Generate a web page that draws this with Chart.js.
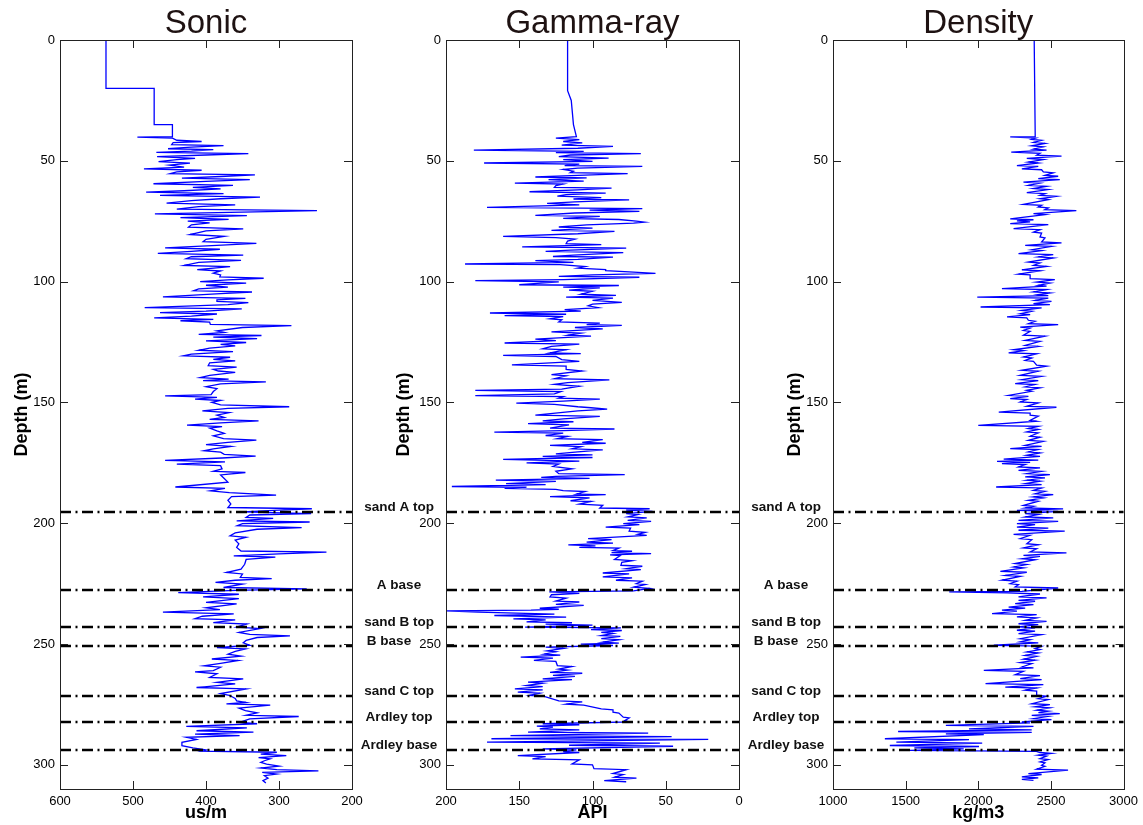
<!DOCTYPE html>
<html>
<head>
<meta charset="utf-8">
<title>Well logs</title>
<script src="https://cdn.jsdelivr.net/npm/chart.js@4.4.1/dist/chart.umd.min.js"></script>
<style>
  html, body { margin: 0; padding: 0; background: #fff; }
  #wrap { position: relative; width: 1143px; height: 825px; overflow: hidden; }
  canvas { position: absolute; top: 0; }
</style>
</head>
<body>
<div id="wrap">
  <canvas id="sonicChart" width="365" height="825" style="left:0"></canvas>
  <canvas id="gammaChart" width="397" height="825" style="left:355px"></canvas>
  <canvas id="densityChart" width="398" height="825" style="left:745px"></canvas>
</div>
<script>
// log samples as [depth (m), reading]
const sonicLog = [
  [0,537],[20,537],[20,471],[35,471],[35,446],[40,446],[40.2,494],[40.6,446],[41.5,440],[42,406],
  [42.5,445],[43.3,447],[43.7,376],[44.3,420],[45,452],[45.4,390],[46,420],[46.5,468],[47,342],[47.6,400],
  [48.3,467],[49,415],[49.5,440],[50.3,465],[51,422],[51.8,450],[52.6,430],[53.3,485],[53.9,406],[54.6,440],
  [55.3,449],[55.8,333],[56.5,380],[57.2,433],[57.8,340],[58.5,400],[59.5,472],[60.2,363],[61,418],[61.6,380],
  [62.4,430],[63,482],[63.6,376],[64.3,463],[65,326],[65.7,380],[66.5,420],[67.5,454],[68.2,360],[69,410],
  [70,440],[70.6,248],[71.2,350],[72,470],[72.7,344],[73.5,435],[74.2,369],[75,425],[75.7,395],[76.5,420],
  [77.5,424],[78.2,349],[79,400],[80.5,422],[81.3,375],[82.5,400],[83.5,404],[84.2,331],[85,385],[86,456],
  [86.6,381],[87.5,420],[88.3,466],[89,349],[89.7,420],[90.5,427],[91.2,352],[92,410],[93.3,430],[93.8,367],
  [95,412],[95.6,380],[96.5,390],[97.2,380],[98,381],[98.6,321],[99.3,370],[100,408],[100.6,345],[101.5,400],
  [102.3,370],[103,410],[103.8,417],[104.3,337],[105,380],[106.3,459],[106.9,346],[107.6,385],[108.2,385],[108.7,342],
  [109.5,370],[110.8,484],[111.3,351],[112.2,400],[112.8,463],[113.4,385],[114.3,420],[115,471],[115.6,390],[116.2,435],
  [116.8,395],[117.7,394],[118.2,283],[119,350],[120.4,385],[121,375],[121.8,410],[122.3,324],[123,390],[123.6,330],
  [124.5,400],[125.2,345],[126,380],[126.6,360],[127.5,395],[128.4,410],[129,363],[130,420],[130.7,431],[131.3,367],
  [132.2,390],[132.8,360],[133.6,395],[134.8,397],[135.4,358],[136.3,390],[137,383],[137.6,360],[138.8,395],[139.7,408],
  [140.4,369],[141,404],[141.5,318],[142.3,380],[143.5,400],[144.3,385],[145.5,390],[146.8,393],[147.3,456],[147.9,385],
  [148.6,415],[149.2,380],[150,392],[151,380],[151.8,286],[152.5,370],[153.5,405],[154.2,368],[155.3,385],[156.2,375],
  [157,395],[157.6,328],[158.5,380],[159.4,426],[160,378],[160.6,395],[161.8,385],[162.8,375],[163.8,390],[165,376],
  [165.6,331],[166.5,370],[167.5,400],[168.2,366],[169.2,390],[170,403],[170.6,380],[171.5,375],[172.2,332],[173,378],
  [174,456],[174.6,374],[175.5,440],[176.2,380],[177.5,378],[178.5,390],[179,346],[180,380],[181.5,375],[183,370],
  [185,442],[185.6,374],[186.6,394],[187.3,368],[188.4,304],[189,365],[190.5,370],[192,366],[193.5,370],[194,255],
  [194.6,300],[195.3,350],[196,256],[196.6,340],[197.6,345],[198,308],[199,358],[199.5,258],[200.2,350],[201,357],
  [201.8,269],[202.5,330],[204,360],[205.2,367],[205.8,345],[207,360],[208.5,355],[210,358],[211.5,352],[212,235],
  [212.7,300],[213.5,362],[214,305],[215,345],[217,347],[219,352],[220.4,372],[221,350],[222.4,353],[222.9,310],
  [223.6,360],[224.5,387],[225.2,350],[226.6,376],[227.2,262],[227.8,360],[228.7,438],[229.4,355],[230.5,404],[231.2,355],
  [232.8,400],[233.4,358],[235,400],[235.8,381],[236.8,459],[237.5,362],[238.5,405],[239.5,415],[240,360],[241.1,390],
  [241.7,344],[243,358],[243.6,326],[245.2,355],[246,340],[246.6,285],[247.3,330],[248.5,345],[249.5,349],[250.5,340],
  [251.5,385],[252,346],[253,360],[254.2,370],[255,352],[256.2,392],[256.8,356],[258,380],[259,403],[259.6,380],
  [261,390],[261.5,415],[262.3,385],[263.8,395],[264.4,349],[265.9,385],[266.5,360],[268,413],[268.6,345],[270.5,380],
  [271.2,368],[272.5,360],[273.5,358],[274.2,345],[274.8,372],[275.3,312],[276.5,355],[277.6,346],[278.5,330],[279.5,345],
  [280,273],[281,340],[282.4,354],[283,330],[284.1,427],[284.7,344],[285.9,413],[286.5,335],[287.3,415],[287.9,354],
  [288.6,427],[289.5,413],[290.7,433],[292.1,433],[293,418],[293.8,400],[294.3,406],[294.8,303],[295.6,325],[296.2,290],
  [297,328],[297.5,312],[298.3,320],[299,325],[299.7,317],[300.5,300],[301.3,325],[302,303],[302.5,246],[303.1,323],
  [303.8,303],[304.5,320],[305.5,315],[306.5,322],[307.5,318]
];

const gammaLog = [
  [0,117],[21,117],[25,114.5],[35,113],[40,111],[40.6,125],[41.2,109],[42,120],[42.6,107],[43.5,121],
  [44,86],[44.8,110],[45.6,181],[46.1,106],[46.6,125],[47,67],[47.6,115],[48.3,123],[48.9,89],[49.5,120],
  [50.2,100],[50.9,174],[51.4,109],[52,119],[52.3,66],[53,110],[53.6,120],[54.3,113],[54.9,115],[55.3,76],
  [56,110],[56.7,139],[57.1,104],[57.8,130],[58.4,106],[59.2,153],[59.6,120],[60.3,125],[61,126],[61.3,87],
  [62,110],[62.8,143],[63.4,91],[64,118],[64.6,124],[65.2,94],[65.8,113],[66.2,75],[67,112],[67.6,131],
  [68.2,109],[69.3,172],[69.8,66],[70.4,102],[70.9,68],[71.6,112],[72.6,139],[73,95],[73.8,120],[74.3,82],
  [75,70],[75.4,64.6],[75.8,72],[76.5,104],[77.4,123],[77.9,100],[78.8,128],[79.2,85],[80.2,110],[81.3,161],
  [81.8,125],[82.4,112],[83.2,117],[84.3,118],[84.7,94],[85.6,148],[86.1,77],[87,115],[87.5,132],[88,79],
  [89,113],[89.6,127],[89.9,86],[90.8,110],[91.3,139],[92,113],[92.7,187],[93,122],[93.8,105],[94.4,110],
  [95,91],[95.5,91],[96,75],[96.6,57],[97.2,100],[97.8,123],[98.2,68],[99.2,120],[99.6,180],[100.1,123],
  [100.8,140],[101.3,150],[101.6,82],[102.3,120],[102.6,95],[103.5,116],[104,100],[105.2,108],[105.7,84],[106.4,118],
  [106.8,86],[107.8,100],[108.6,80],[109.3,100],[110,103],[110.8,96],[111.6,119],[112.2,108],[113,170],[113.5,118],
  [114.1,160],[114.5,120],[115.4,129],[115.8,121],[116.7,123],[117.2,95],[117.8,104],[118.1,80],[119,112],[119.6,93],
  [120.8,128],[121.3,108],[122.2,117],[122.6,101],[123.8,139],[124.4,125],[125.4,160],[125.9,109],[126.8,128],[127.8,134],
  [128.2,118],[129.5,129],[129.8,108],[130.5,161],[131,125],[132.3,121],[133,109],[134.5,155],[135,118],[136.3,118],
  [137,107],[138.5,128],[139,118],[140.2,126],[140.7,88.5],[141.8,117],[142.5,126],[143.3,109],[144.5,121],[145,180],
  [145.5,121.5],[146.5,126],[147.2,180],[147.6,120],[148.2,123],[148.6,95],[149.5,120],[150.3,152],[150.8,126],[151.8,110],
  [152.2,101],[152.8,90],[153.5,110],[155.3,139],[155.8,95],[156.8,120],[157.6,134],[158,113],[158.8,144],[159.3,116],
  [160.6,129],[161,85],[161.7,120],[162.3,167],[162.7,120],[163.7,132],[164.1,117],[165,124],[165.4,93],[166.5,107],
  [166.9,91],[167.8,129],[168.3,108],[169.2,114],[169.6,93],[170.5,110],[171.3,125],[171.7,100],[172.3,134],[172.8,100],
  [173.6,161],[174.3,109],[175,145],[175.5,123],[176.5,127],[177.5,114],[178.5,125],[179.5,123],[179.9,78],[180.6,125],
  [181,135],[181.4,102],[182.2,166],[182.7,125],[183.6,159],[184,132],[184.8,196],[185.1,145],[185.6,160],[186,125],
  [186.5,120],[186.9,105],[188,111],[188.2,91],[189,129],[189.5,102],[190.7,115],[191,101],[192.1,109],[192.6,93],
  [193.7,95],[194,61],[194.6,77],[195.1,59],[196,77],[196.4,69],[197.4,76],[197.8,63],[198.8,76],[199.2,60],
  [200.2,79],[200.6,68],[201.6,91],[202,74],[203.3,75],[203.8,64],[204.6,69],[205,63],[206.4,103],[206.8,87],
  [207.8,104],[208.2,86],[209,116.5],[209.4,98],[210,109],[210.3,82],[211.3,86],[211.6,73],[212.2,87],[212.6,60],
  [213.1,88],[213.4,81],[215,85],[215.5,73],[216.2,80],[217.4,80.6],[217.8,66],[218.8,77],[219.2,67],[220.6,93],
  [221,75],[222.2,93],[222.6,73],[223.6,84],[224,66],[225,70],[225.4,64],[226.5,72],[227,61],[228,72],
  [228.4,129.5],[229,109],[229.6,128],[230.5,129],[231,118],[232.2,125],[232.6,109],[233.6,125],[234,106],[235.2,136],
  [235.6,123],[236,142],[236.3,200],[236.8,178],[237.6,126],[238.2,167],[238.9,118],[239.6,154],[240,132],[240.8,145],
  [241.2,114],[241.8,132],[242.2,100],[243,146],[243.3,80.6],[244,101],[244.4,80],[245.2,94],[245.6,86],[246.5,94],
  [246.8,81],[247.8,94],[248.2,82],[249.2,93],[249.6,82],[250,108],[250.6,86],[251.3,132],[251.8,120],[252.8,131],
  [253.2,125],[254.2,133],[254.6,122],[255.4,149],[255.8,127],[256.8,140],[257.2,125],[258.9,124],[259.3,114],[260.4,123],
  [260.8,117],[261.7,129],[262.1,107],[263,127],[263.4,112],[264.4,134],[264.7,114],[265.8,144],[266.2,134],[267.2,145],
  [267.6,134],[268.6,153],[269,134],[269.9,151],[270.3,136],[271.3,143],[271.7,133],[273.5,123],[273.9,107],[274.9,118],
  [275.3,106],[276.8,94],[277.2,86],[278.2,86],[278.6,82],[280.3,79],[280.6,75],[281.7,78],[282.2,75],[283,134],
  [283.4,109],[284,138],[284.4,127],[285.1,136],[285.5,109],[286.5,144],[286.9,62],[287.9,156],[288.3,46],[289.2,169],
  [289.5,21],[290.6,172],[291,54],[291.9,116],[292.3,45],[293.4,134],[293.8,111],[294.5,120],[294.9,109],[296.2,151],
  [296.6,132],[297.5,141],[297.9,109],[299.6,114],[300,100],[301.6,99],[302,77],[303.6,86],[304,79],[305.1,85],
  [305.5,70],[306.5,92],[307,77]
];

const densityLog = [
  [0,2385],[40,2392],[40.1,2220],[40.6,2395],[41.1,2368],[41.5,2436],[42.4,2380],[42.8,2459],[43.8,2368],[44.2,2448],
  [45.2,2380],[45.6,2470],[46.4,2227],[46.9,2425],[47.7,2402],[48.1,2573],[49,2334],[49.5,2448],[50.5,2345],[50.9,2413],
  [52,2266],[52.3,2413],[53.3,2300],[53.7,2436],[54.6,2448],[55,2516],[56,2459],[56.4,2550],[57.4,2413],[57.8,2561],
  [58.8,2311],[59.2,2425],[60.2,2345],[60.6,2470],[61.5,2380],[61.9,2482],[63.2,2334],[63.6,2459],[64.3,2425],[64.7,2538],
  [65.7,2425],[66.1,2482],[68,2311],[68.4,2436],[69.1,2413],[69.5,2482],[70.2,2459],[70.6,2675],[71.9,2380],[72.3,2459],
  [74,2220],[74.4,2380],[74.9,2266],[75.3,2357],[76,2220],[76.4,2482],[78.1,2243],[78.5,2425],[79.5,2380],[79.9,2436],
  [81.5,2425],[81.9,2459],[83.6,2436],[84,2573],[85,2323],[85.4,2504],[86.8,2368],[87.2,2436],[88.4,2277],[88.8,2516],
  [89.8,2413],[90.2,2516],[91.9,2345],[92.3,2425],[93.3,2380],[93.7,2470],[95.1,2300],[95.5,2425],[96.9,2277],[97.2,2357],
  [98.8,2357],[99.2,2527],[100.2,2402],[100.6,2493],[101.5,2413],[101.9,2470],[102.9,2163],[103.3,2470],[104.3,2380],[104.7,2493],
  [105.4,2413],[105.8,2482],[106.4,1993],[106.8,2482],[107.8,2391],[108.2,2504],[109.1,2380],[109.5,2493],[110.5,2016],[110.9,2436],
  [111.9,2300],[112.3,2368],[113.3,2289],[113.7,2357],[114.6,2198],[115,2334],[116,2345],[116.4,2391],[117.4,2345],[117.8,2550],
  [118.8,2289],[119.2,2357],[120.2,2311],[120.6,2357],[122.2,2311],[122.6,2459],[124.3,2323],[124.7,2425],[126.4,2323],[126.8,2413],
  [128.2,2243],[128.6,2311],[129.5,2209],[129.9,2402],[131.2,2311],[131.6,2368],[132.6,2323],[133,2380],[134.6,2402],[135,2470],
  [136.7,2300],[137.1,2413],[138.8,2289],[139.2,2436],[140.6,2300],[141,2413],[142.2,2254],[142.6,2391],[143.6,2323],[144,2425],
  [145,2334],[145.4,2368],[147.1,2209],[147.5,2345],[148.4,2220],[148.8,2334],[149.8,2289],[150.2,2413],[151.6,2334],[152,2538],
  [154,2141],[154.4,2357],[155.3,2357],[155.7,2413],[157.4,2357],[157.8,2402],[159.5,2000],[159.9,2413],[160.8,2345],[161.2,2413],
  [162.2,2334],[162.6,2413],[164,2357],[164.4,2425],[165.7,2345],[166.1,2448],[167.8,2323],[168.2,2436],[169.1,2220],[169.5,2413],
  [170.5,2345],[170.9,2425],[171.9,2334],[172.3,2425],[173.5,2175],[173.9,2413],[174.4,2129],[174.8,2357],[175.3,2163],[175.7,2323],
  [176.7,2277],[177.1,2425],[178.1,2277],[178.5,2436],[179.5,2334],[179.9,2493],[180.8,2323],[181.2,2459],[182.2,2334],[182.6,2425],
  [183.6,2323],[184,2436],[185,2123],[185.4,2436],[186.4,2380],[186.8,2459],[187.8,2391],[188.2,2516],[189.1,2380],[189.5,2448],
  [190.5,2345],[190.9,2413],[192.6,2311],[193,2380],[193.7,2323],[194.1,2584],[194.7,2266],[195.1,2550],[196,2323],[196.4,2413],
  [197.4,2323],[197.8,2516],[198.8,2277],[199.2,2550],[200.2,2266],[200.6,2391],[201.6,2266],[202,2482],[202.9,2277],[203.3,2595],
  [204.6,2243],[205,2357],[206.4,2289],[206.8,2368],[208.5,2334],[208.9,2413],[210.2,2311],[210.6,2402],[211.9,2357],[212.3,2607],
  [213.3,2311],[213.7,2425],[214.7,2300],[215.1,2391],[216.7,2254],[217.1,2334],[218.1,2243],[218.5,2311],[219.9,2152],[220.3,2334],
  [221.6,2186],[222,2289],[223.6,2163],[224,2266],[225,2220],[225.4,2277],[226.4,2254],[226.8,2550],[228.2,2300],[228.4,1800],
  [228.8,2198],[229.3,2425],[230.5,2277],[230.9,2470],[231.9,2277],[232.3,2391],[233.3,2254],[233.7,2380],[234.7,2209],[235.1,2323],
  [236,2163],[236.4,2266],[237.4,2095],[237.8,2402],[238.8,2266],[239.2,2402],[240.2,2323],[240.6,2470],[241.6,2277],[242,2413],
  [242.9,2277],[243.3,2391],[244.3,2266],[244.7,2391],[245.7,2277],[246.1,2436],[247.8,2289],[248.2,2357],[249.1,2289],[249.5,2413],
  [250.5,2107],[250.9,2436],[251.9,2391],[252.3,2425],[253.3,2334],[253.7,2413],[254.7,2323],[255.1,2402],[256.3,2311],[256.7,2391],
  [257.7,2289],[258.1,2368],[259.5,2300],[259.9,2380],[260.9,2038],[261.3,2311],[262.7,2254],[263.1,2425],[264.3,2289],[264.7,2436],
  [266.4,2050],[266.8,2448],[267.8,2186],[268.2,2402],[269.1,2323],[269.5,2402],[271.2,2402],[271.6,2470],[272.6,2413],[273,2482],
  [274.7,2368],[275.1,2493],[276,2391],[276.4,2493],[277.4,2402],[277.8,2482],[278.4,2414],[278.8,2561],[279.5,2368],[279.9,2482],
  [280.9,2380],[281.3,2504],[282.2,2300],[282.6,2357],[283.7,1777],[284.1,2380],[285.1,1936],[285.5,2368],[286.2,1448],[286.6,2368],
  [287.2,1777],[287.5,2038],[289.2,1357],[289.6,1936],[290.6,1436],[291,2027],[292,1391],[292.4,2005],[293,1560],[293.4,1900],
  [294,1530],[294.4,2400],[294.9,2425],[295.3,2504],[296,2413],[296.4,2470],[297.4,2425],[297.8,2482],[298.8,2425],[299.2,2459],
  [300.2,2436],[300.6,2459],[301.8,2402],[302.2,2618],[303.6,2345],[304,2436],[305,2300],[305.4,2413],[306,2300],[306.4,2380]
];

// formation tops and bases
const horizonNames = ['sand A top', 'A base', 'sand B top', 'B base', 'sand C top', 'Ardley top', 'Ardley base'];
const horizonDepths = [195.3, 227.8, 243, 251, 271.7, 282.3, 294];

const depthTicks = [0, 50, 100, 150, 200, 250, 300];

Chart.defaults.font.family = '"Liberation Sans", Arial, Helvetica, sans-serif';
Chart.defaults.color = '#000';

// box, inward ticks on all sides, horizon lines and labels
const logFrame = {
  id: 'logFrame',
  afterDatasetsDraw(chart, args, opts) {
    const { ctx, chartArea: a, scales: { x, y } } = chart;
    ctx.save();

    ctx.strokeStyle = '#000';
    ctx.lineWidth = 2.6;
    ctx.setLineDash([11, 4.5, 2, 4.5]);
    horizonDepths.forEach(d => {
      const py = Math.round(y.getPixelForValue(d));
      ctx.beginPath();
      ctx.moveTo(a.left, py);
      ctx.lineTo(a.right, py);
      ctx.stroke();
    });
    ctx.setLineDash([]);

    ctx.strokeStyle = '#222';
    ctx.lineWidth = 1;
    ctx.strokeRect(Math.round(a.left) + 0.5, Math.round(a.top) + 0.5,
      Math.round(a.right - a.left), Math.round(a.bottom - a.top));

    const len = 8;
    ctx.beginPath();
    x.ticks.forEach(t => {
      if (t.value === x.min || t.value === x.max) return;
      const px = Math.round(x.getPixelForValue(t.value)) + 0.5;
      ctx.moveTo(px, a.top); ctx.lineTo(px, a.top + len);
      ctx.moveTo(px, a.bottom); ctx.lineTo(px, a.bottom - len);
    });
    y.ticks.forEach(t => {
      if (t.value === y.min || t.value === y.max) return;
      const py = Math.round(y.getPixelForValue(t.value)) + 0.5;
      ctx.moveTo(a.left, py); ctx.lineTo(a.left + len, py);
      ctx.moveTo(a.right, py); ctx.lineTo(a.right - len, py);
    });
    ctx.stroke();

    if (opts.labels) {
      ctx.fillStyle = '#111';
      ctx.font = 'bold 13.5px "Liberation Sans", Arial, sans-serif';
      ctx.textAlign = 'center';
      ctx.textBaseline = 'alphabetic';
      horizonNames.forEach((name, i) => {
        const py = y.getPixelForValue(horizonDepths[i]);
        const shift = name === 'B base' ? -10 : 0;
        ctx.fillText(name, a.left - 47 + shift, py - 1);
      });
    }
    ctx.restore();
  }
};

function makeLog(id, opt) {
  const ctx = document.getElementById(id).getContext('2d');
  return new Chart(ctx, {
    type: 'scatter',
    data: {
      datasets: [{
        data: opt.log.map(p => ({ x: p[1], y: p[0] })),
        showLine: true,
        borderColor: '#0000ff',
        borderWidth: 1.3,
        pointRadius: 0,
        tension: 0
      }]
    },
    options: {
      responsive: false,
      animation: false,
      layout: { padding: { left: 0, right: opt.padRight, top: 0, bottom: 0 } },
      plugins: {
        legend: { display: false },
        tooltip: { enabled: false },
        title: {
          display: true,
          text: opt.title,
          fullSize: false,
          color: '#1e1212',
          font: { size: 33, weight: 'normal', lineHeight: 1 },
          padding: { top: 7, bottom: 0 }
        },
        logFrame: { labels: opt.labels }
      },
      scales: {
        x: {
          type: 'linear',
          min: opt.min,
          max: opt.max,
          reverse: opt.reverse,
          afterBuildTicks: s => { s.ticks = opt.ticks.map(v => ({ value: v })); },
          ticks: { padding: 5, font: { size: 13 }, callback: v => String(v) },
          grid: { display: false, drawTicks: false },
          border: { display: false },
          title: {
            display: true,
            text: opt.unit,
            font: { size: 18, weight: 'bold' },
            padding: { top: 0, bottom: 1 }
          },
          afterFit: s => { s.height = 36; }
        },
        y: {
          type: 'linear',
          min: 0,
          max: 310,
          reverse: true,
          afterBuildTicks: s => { s.ticks = depthTicks.map(v => ({ value: v })); },
          ticks: { padding: 5, font: { size: 13 } },
          grid: { display: false, drawTicks: false },
          border: { display: false },
          title: {
            display: true,
            text: 'Depth (m)',
            font: { size: 18, weight: 'bold' },
            padding: { top: opt.titleOffset, bottom: 0 }
          },
          afterFit: s => { s.width = opt.axisWidth; }
        }
      }
    },
    plugins: [logFrame]
  });
}

makeLog('sonicChart', {
  log: sonicLog, title: 'Sonic', unit: 'us/m',
  min: 200, max: 600, reverse: true, ticks: [200, 300, 400, 500, 600],
  axisWidth: 60, titleOffset: 11, padRight: 13, labels: false
});

makeLog('gammaChart', {
  log: gammaLog, title: 'Gamma-ray', unit: 'API',
  min: 0, max: 200, reverse: true, ticks: [0, 50, 100, 150, 200],
  axisWidth: 91, titleOffset: 38, padRight: 13, labels: true
});

makeLog('densityChart', {
  log: densityLog, title: 'Density', unit: 'kg/m3',
  min: 1000, max: 3000, reverse: false, ticks: [1000, 1500, 2000, 2500, 3000],
  axisWidth: 88, titleOffset: 39, padRight: 17, labels: true
});
</script>
</body>
</html>
